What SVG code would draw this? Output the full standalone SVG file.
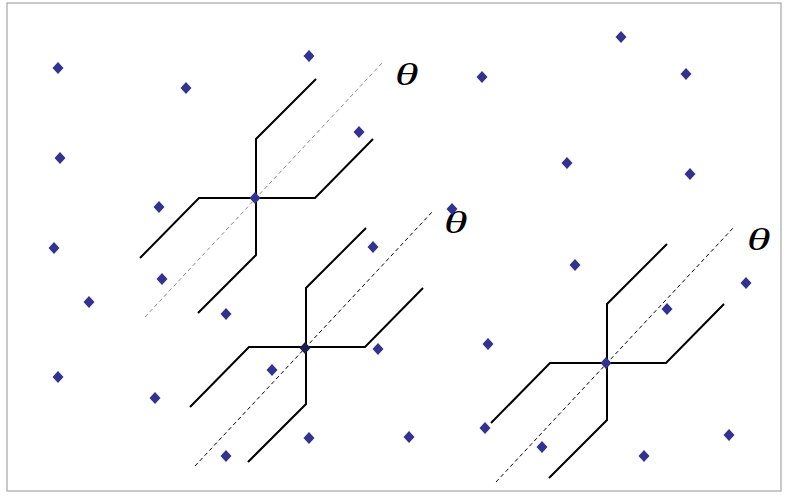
<svg xmlns="http://www.w3.org/2000/svg" xmlns:xlink="http://www.w3.org/1999/xlink" width="787" height="497" viewBox="0 0 787 497">
<style>
.arm{fill:none;stroke:#000;stroke-width:2;stroke-linejoin:miter}
.axis{fill:none;stroke:#000;stroke-width:1;stroke-dasharray:4 3}
.axis.light{stroke:#8c8c8c}
.pt{fill:#33338f}
.pt.dark{fill:#1c1c4e}
.lbl{font-family:"Liberation Serif","DejaVu Serif",serif;font-style:italic;font-size:31px;fill:#000}
</style>
<defs>
<path id="dia" d="M0,-6 L5.5,0 L0,6 L-5.5,0 Z"/>
</defs>
<rect x="7" y="3" width="774" height="488" fill="#fff" stroke="#a6a6a6" stroke-width="1.2"/>
<g id="connectors">
<g transform="translate(255,198)">
<path class="axis light" d="M-110,119 L128,-136"/>
<path class="arm" d="M61,-119 L1,-59 L1,57 L-57,115"/>
<path class="arm" d="M118,-59 L60,0 L-56,0 L-115,60"/>
</g>
<g transform="translate(305,347)">
<path class="axis" d="M-110,119 L128,-136"/>
<path class="arm" d="M61,-119 L1,-59 L1,57 L-57,115"/>
<path class="arm" d="M118,-59 L60,0 L-56,0 L-115,60"/>
</g>
<g transform="translate(606,363)">
<path class="axis" d="M-110,119 L128,-136"/>
<path class="arm" d="M61,-119 L1,-59 L1,57 L-57,115"/>
<path class="arm" d="M118,-59 L60,0 L-56,0 L-115,60"/>
</g>
</g>
<g id="labels">
<text class="lbl" transform="translate(395,85) scale(1.55,1)">θ</text>
<text class="lbl" transform="translate(444,233) scale(1.55,1)">θ</text>
<text class="lbl" transform="translate(747,250) scale(1.55,1)">θ</text>
</g>
<g id="points">
<use class="pt" href="#dia" x="58" y="68"/>
<use class="pt" href="#dia" x="186" y="88"/>
<use class="pt" href="#dia" x="309" y="56"/>
<use class="pt" href="#dia" x="60" y="158"/>
<use class="pt" href="#dia" x="159" y="207"/>
<use class="pt" href="#dia" x="54" y="248"/>
<use class="pt" href="#dia" x="162" y="279"/>
<use class="pt" href="#dia" x="89" y="302"/>
<use class="pt" href="#dia" x="226" y="314"/>
<use class="pt" href="#dia" x="359" y="132"/>
<use class="pt" href="#dia" x="373" y="247"/>
<use class="pt" href="#dia" x="58" y="377"/>
<use class="pt" href="#dia" x="155" y="398"/>
<use class="pt" href="#dia" x="226" y="456"/>
<use class="pt" href="#dia" x="452" y="209"/>
<use class="pt" href="#dia" x="378" y="349"/>
<use class="pt" href="#dia" x="272" y="370"/>
<use class="pt" href="#dia" x="309" y="438"/>
<use class="pt" href="#dia" x="409" y="437"/>
<use class="pt" href="#dia" x="482" y="77"/>
<use class="pt" href="#dia" x="621" y="37"/>
<use class="pt" href="#dia" x="686" y="74"/>
<use class="pt" href="#dia" x="567" y="163"/>
<use class="pt" href="#dia" x="690" y="174"/>
<use class="pt" href="#dia" x="575" y="265"/>
<use class="pt" href="#dia" x="746" y="283"/>
<use class="pt" href="#dia" x="667" y="309"/>
<use class="pt" href="#dia" x="488" y="344"/>
<use class="pt" href="#dia" x="485" y="428"/>
<use class="pt" href="#dia" x="542" y="447"/>
<use class="pt" href="#dia" x="644" y="456"/>
<use class="pt" href="#dia" x="729" y="435"/>
</g>
<g id="center-1"><use class="pt" href="#dia" x="255" y="198"/></g>
<g id="center-2"><use class="pt dark" href="#dia" x="305" y="348"/></g>
<g id="center-3"><use class="pt" href="#dia" x="606" y="363"/></g>
</svg>
